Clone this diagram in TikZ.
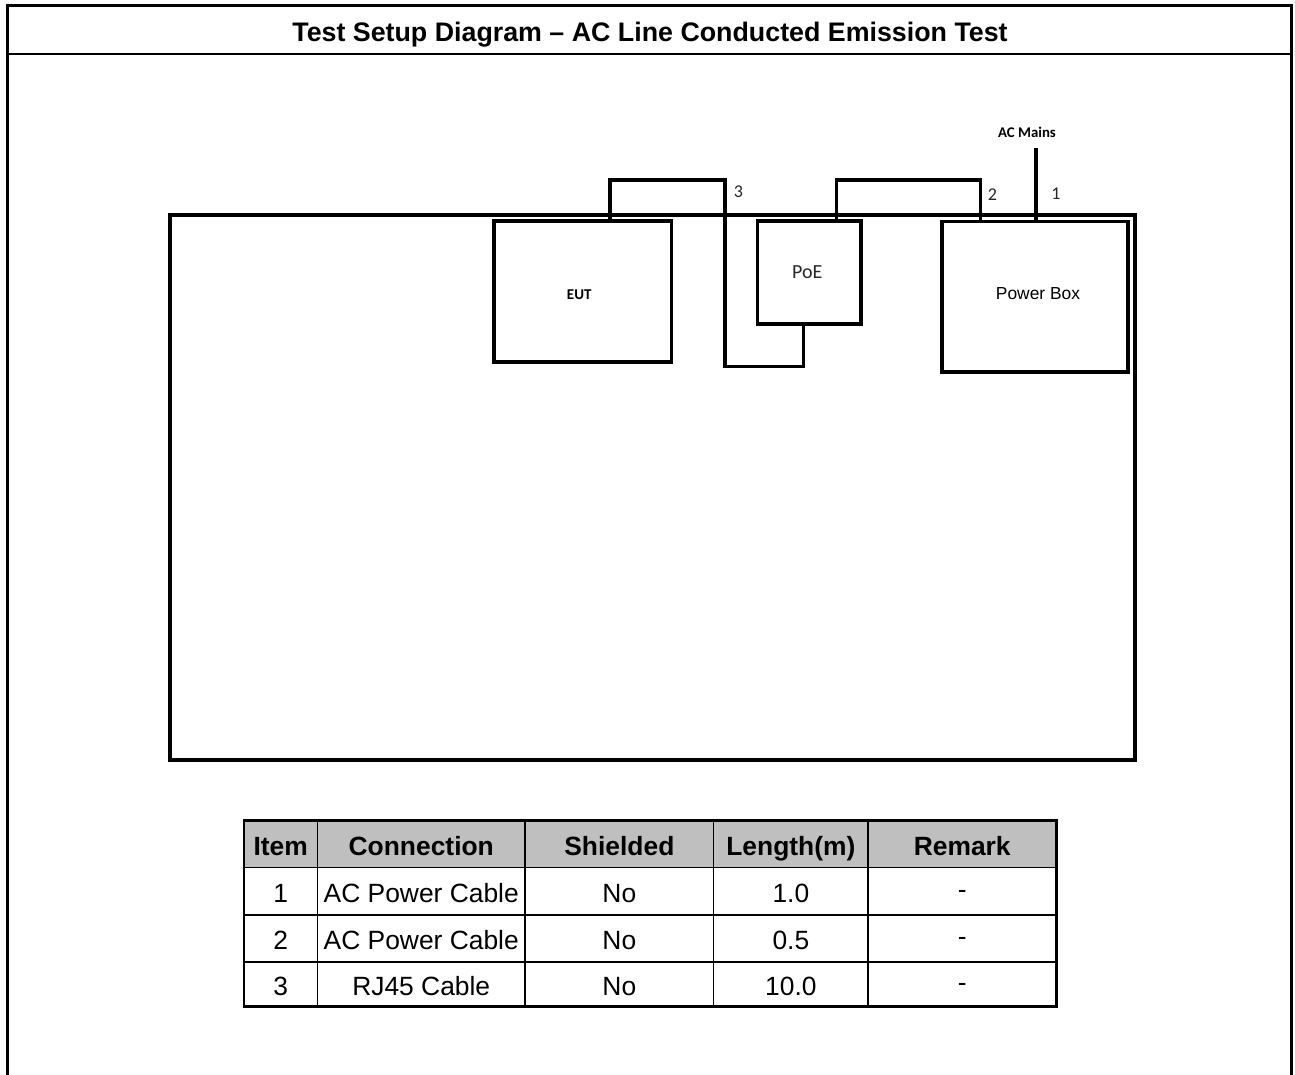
\documentclass[tikz,border=0pt]{standalone}
\usepackage{fontspec}
\setmainfont{Liberation Sans}
\newfontfamily\calfont{Carlito}
\begin{document}
\begin{tikzpicture}[x=1pt,y=-1pt,
  box/.style={draw,line width=3.5pt,inner sep=0pt,outer sep=0pt},
  cable/.style={line width=3.8pt,line join=miter},
  lbl/.style={font=\calfont\fontsize{18}{20}\selectfont,text=black!85,inner sep=0pt},
  cell/.style={draw,line width=1.5pt,inner sep=0pt,outer sep=0pt,text height=21.5pt,text depth=0pt,font=\fontsize{26.4}{28}\selectfont},
  hcell/.style={cell,text height=23pt,fill=black!25,font=\bfseries\fontsize{26.4}{28}\selectfont}]
\useasboundingbox (0,0) rectangle (1295,1075);
% frame
\draw[line width=3pt] (7.5,1080) -- (7.5,5.5) -- (1291.5,5.5) -- (1291.5,1080);
\draw[line width=2pt] (7.5,54) -- (1291.5,54);
\node[font=\bfseries\fontsize{26.8}{28}\selectfont,inner sep=0pt,anchor=base] (title) at (650,41.5) {Test Setup Diagram -- AC Line Conducted Emission Test};
% ground plane
\node[box,line width=4pt,minimum width=965pt,minimum height=545pt] (plane) at (652.5,487.5) {};
% equipment
\node[box,minimum width=177.5pt,minimum height=141pt,
  label={[font=\calfont\bfseries\fontsize{15}{16}\selectfont,inner sep=0pt,xshift=-3.5pt,yshift=-3.5pt]center:EUT}] (eut) at (582.75,291.5) {};
\node[box,minimum width=103.5pt,minimum height=103pt,
  label={[font=\calfont\fontsize{20}{22}\selectfont,text=black!85,inner sep=0pt,xshift=-2pt]center:PoE}] (poe) at (809.25,272.5) {};
\node[box,minimum width=186pt,minimum height=150.5pt,
  label={[font=\fontsize{17.4}{19}\selectfont,inner sep=0pt,xshift=3pt,yshift=3.5pt]center:Power Box}] (pbox) at (1035,296.75) {};
% cables
\draw[cable] ([xshift=116pt]eut.north west) -- (610,180) -- (725,180) -- (725,366.5) -- (803.5,366.5) -- ([xshift=46pt]poe.south west);
\draw[cable] ([xshift=79pt]poe.north west) -- (836.5,180) -- (980.5,180) -- ([xshift=38.5pt]pbox.north west);
\coordinate (mains) at (1036,148);
\draw[cable] (mains) -- ([xshift=94pt]pbox.north west);
\node[font=\calfont\bfseries\fontsize{14.8}{16}\selectfont,inner sep=0pt] (acm) at (1027,132) {AC Mains};
\node[lbl] (l3) at (738.5,192) {3};
\node[lbl] (l2) at (992.5,195) {2};
\node[lbl] (l1) at (1056,194) {1};
% table
\node[hcell,minimum width=73.5pt,minimum height=47pt] (h1) at (280.75,844) {Item};
\node[hcell,minimum width=207.5pt,minimum height=47pt] (h2) at (421.25,844) {Connection};
\node[hcell,minimum width=188.7pt,minimum height=47pt] (h3) at (619.35,844) {Shielded};
\node[hcell,minimum width=154.3pt,minimum height=47pt] (h4) at (790.85,844) {Length(m)};
\node[hcell,minimum width=188.5pt,minimum height=47pt] (h5) at (962.25,844) {Remark};
\foreach \r/\y/\h/\a/\b/\c/\d in {1/891.25/47.5/1/AC Power Cable/No/1.0, 2/938.5/47/2/AC Power Cable/No/0.5, 3/984.25/44.5/3/RJ45 Cable/No/10.0}{
  \node[cell,minimum width=73.5pt,minimum height=\h pt] (r\r c1) at (280.75,\y) {\a};
  \node[cell,minimum width=207.5pt,minimum height=\h pt] (r\r c2) at (421.25,\y) {\b};
  \node[cell,minimum width=188.7pt,minimum height=\h pt] (r\r c3) at (619.35,\y) {\c};
  \node[cell,minimum width=154.3pt,minimum height=\h pt] (r\r c4) at (790.85,\y) {\d};
  \node[cell,minimum width=188.5pt,minimum height=\h pt] (r\r c5) at (962.25,\y) {\raisebox{4pt}{-}};
}
\draw[line width=2.5pt] (h1.north west) rectangle (r3c5.south east);
\end{tikzpicture}
\end{document}
